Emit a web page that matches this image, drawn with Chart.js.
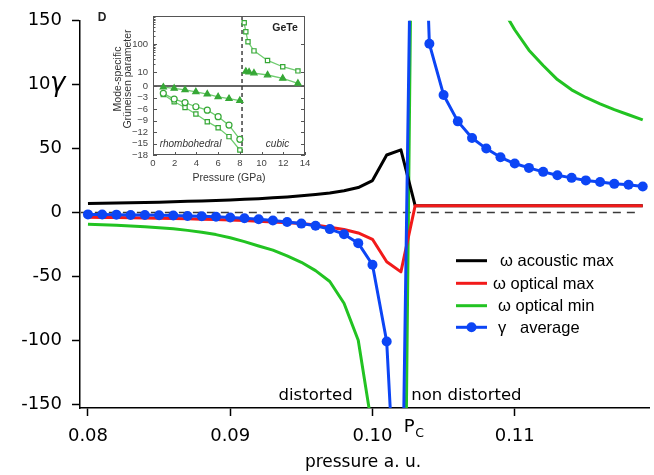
<!DOCTYPE html>
<html>
<head>
<meta charset="utf-8">
<script src="https://cdn.jsdelivr.net/npm/chart.js@4.4.1/dist/chart.umd.min.js"></script>
<style>
  html, body { margin: 0; padding: 0; background: #fff; }
  #wrap { position: relative; width: 654px; height: 475px; overflow: hidden; }
  #main { position: absolute; left: 0; top: 0; }
  #inset { position: absolute; left: 95px; top: 5px; filter: blur(0.45px); }
</style>
</head>
<body>
<div id="wrap">
  <canvas id="main" width="654" height="475"></canvas>
  <canvas id="inset" width="230" height="190"></canvas>
</div>
<script>
// ---------- main panel data (pressure in a.u.) ----------
const PRESSURE_TICKS = [0.08, 0.09, 0.10, 0.11];
const GAMMA_TICKS = [-150, -100, -50, 0, 50, 100, 150];

const ACOUSTIC_MAX_P = [0.080, 0.081, 0.082, 0.083, 0.084, 0.085, 0.086, 0.087, 0.088, 0.089,
                        0.090, 0.091, 0.092, 0.093, 0.094, 0.095, 0.096, 0.097, 0.098, 0.099,
                        0.100, 0.101, 0.102, 0.103, 0.119];
const ACOUSTIC_MAX = [7.0, 7.2, 7.4, 7.6, 7.8, 8.1, 8.4, 8.7, 9.0, 9.4,
                      9.8, 10.3, 10.8, 11.5, 12.2, 13.0, 14.0, 15.2, 17.0, 19.5,
                      25.0, 45.0, 49.0, 5.3, 5.3];

const OPTICAL_MAX_P = [0.080, 0.081, 0.082, 0.083, 0.084, 0.085, 0.086, 0.087, 0.088, 0.089,
                       0.090, 0.091, 0.092, 0.093, 0.094, 0.095, 0.096, 0.097, 0.098, 0.099,
                       0.100, 0.101, 0.102, 0.103, 0.119];
const OPTICAL_MAX = [-3.8, -3.9, -4.0, -4.1, -4.3, -4.5, -4.7, -4.9, -5.2, -5.5,
                     -5.9, -6.3, -6.8, -7.4, -8.0, -8.7, -9.8, -11.5, -13.3, -16.0,
                     -21.0, -38.5, -46.5, 5.3, 5.3];

const FULL_P = [0.080, 0.081, 0.082, 0.083, 0.084, 0.085, 0.086, 0.087, 0.088, 0.089,
                0.090, 0.091, 0.092, 0.093, 0.094, 0.095, 0.096, 0.097, 0.098, 0.099,
                0.100, 0.101, 0.102, 0.103, 0.104, 0.105, 0.106, 0.107, 0.108, 0.109,
                0.110, 0.111, 0.112, 0.113, 0.114, 0.115, 0.116, 0.117, 0.118, 0.119];
const OPTICAL_MIN = [-9.3, -9.6, -10.0, -10.5, -11.1, -11.9, -12.8, -14.0, -15.5, -17.3,
                     -19.8, -22.8, -26.2, -29.5, -34.0, -39.0, -45.5, -54.0, -71.0, -100.0,
                     -170, -300, -569, 506, 420, 320, 257, 214, 184, 162,
                     143, 127, 115, 104, 96, 90, 85, 80.5, 76.5, 72.5];
const GAMMA_AVG = [-1.5, -1.6, -1.7, -1.9, -2.0, -2.2, -2.4, -2.7, -3.0, -3.4,
                   -3.9, -4.5, -5.3, -6.3, -7.4, -8.7, -10.4, -13.0, -17.0, -24.0,
                   -40.9, -101, -311, 458, 132, 92, 71.3, 58.3, 50, 43.2,
                   38.3, 34.9, 31.8, 29.2, 27.1, 25.1, 23.8, 22.4, 21.7, 20.4];

const ZERO_P = [0.0795, 0.1185];
const ZERO_V = [0, 0];

const X_MIN = 0.07944, X_MAX = 0.11944;
const Y_MIN = -153, Y_MAX = 150;

// ---------- inset data (GeTe, pressure in GPa) ----------
const INSET_P_TICKS = [0, 2, 4, 6, 8, 10, 12, 14];
const INSET_G_TICKS = [-18, -15, -12, -9, -6, -3, 0, 10, 100];
const RHOMBO_P = [0.95, 1.95, 2.95, 3.95, 5.0, 6.0, 7.0, 8.0];
const RHOMBO_TRI = [-0.3, -0.6, -1.0, -1.5, -2.1, -2.8, -3.3, -3.8];
const RHOMBO_CIRC = [-1.9, -3.4, -4.3, -5.4, -6.3, -8.0, -10.2, -13.9];
const RHOMBO_SQ = [-2.2, -4.1, -5.6, -7.3, -9.3, -10.9, -13.2, -16.7];
const CUBIC_SQ_P = [8.4, 8.55, 8.75, 9.3, 10.55, 11.95, 13.35];
const CUBIC_SQ = [575, 275, 120, 57, 26, 15.5, 11];
const CUBIC_TRI_P = [8.55, 8.85, 9.3, 10.55, 11.95, 13.35];
const CUBIC_TRI = [10.5, 10.0, 9.3, 7.9, 5.5, 1.9];
const TRANSITION_P = 8.2;

const pts = (xs, ys) => xs.map((x, i) => ({ x, y: ys[i] }));

const BLACK = '#000000', RED = '#f21a1a', GREEN = '#22c322', BLUE = '#0c45f5';

function curve(label, xs, ys, color, order, extra) {
  return Object.assign({
    label, data: pts(xs, ys), borderColor: color, backgroundColor: color,
    borderWidth: 3, pointRadius: 0, showLine: true, tension: 0,
    borderJoinStyle: 'round', order
  }, extra || {});
}

// annotations, legend and axis title drawn on the main panel
const mainDecor = {
  id: 'mainDecor',
  afterDraw(chart) {
    const ctx = chart.ctx;
    const xs = chart.scales.x, ys = chart.scales.y;
    ctx.save();

    // y title
    ctx.fillStyle = '#fff';
    ctx.fillRect(50, 73, 14, 26);
    ctx.fillStyle = '#000';
    ctx.font = 'italic 26px "DejaVu Sans"';
    ctx.textAlign = 'left';
    ctx.textBaseline = 'alphabetic';
    ctx.fillText('γ', 50, 91);

    // region labels
    ctx.font = '16.5px "DejaVu Sans"';
    ctx.textAlign = 'center';
    ctx.textBaseline = 'middle';
    ctx.fillText('distorted', xs.getPixelForValue(0.0960), ys.getPixelForValue(-143));
    ctx.fillText('non distorted', xs.getPixelForValue(0.1066), ys.getPixelForValue(-143));

    // critical pressure
    ctx.textAlign = 'left';
    ctx.textBaseline = 'alphabetic';
    ctx.font = '18px "DejaVu Sans"';
    const pcx = xs.getPixelForValue(0.1022);
    ctx.fillText('P', pcx, 432);
    ctx.font = '12.5px "DejaVu Sans"';
    ctx.fillText('C', pcx + 11.5, 437);

    // x title
    ctx.font = '17px "DejaVu Sans"';
    ctx.textAlign = 'center';
    ctx.textBaseline = 'middle';
    ctx.fillText('pressure a. u.', 363, 463);

    // legend
    const items = [
      { ds: 0, y: 260.7, tx: 500 },
      { ds: 1, y: 283.3, tx: 493 },
      { ds: 2, y: 305.7, tx: 498 },
      { ds: 3, y: 327.3, tx: 498 }
    ];
    ctx.font = '16.5px "Liberation Sans"';
    ctx.textAlign = 'left';
    items.forEach(it => {
      const d = chart.data.datasets[it.ds];
      ctx.strokeStyle = d.borderColor;
      ctx.lineWidth = 3;
      ctx.beginPath();
      ctx.moveTo(456, it.y);
      ctx.lineTo(487, it.y);
      ctx.stroke();
      if (d.pointRadius > 0) {
        ctx.fillStyle = d.backgroundColor;
        ctx.beginPath();
        ctx.arc(471.5, it.y, d.pointRadius, 0, Math.PI * 2);
        ctx.fill();
      }
      ctx.fillStyle = '#000';
      ctx.fillText(d.label, it.tx, it.y + 1);
    });
    ctx.restore();
  }
};

new Chart(document.getElementById('main'), {
  type: 'scatter',
  data: {
    datasets: [
      curve('ω acoustic max', ACOUSTIC_MAX_P, ACOUSTIC_MAX, BLACK, 3),
      curve('ω optical max', OPTICAL_MAX_P, OPTICAL_MAX, RED, 2),
      curve('ω optical min', FULL_P, OPTICAL_MIN, GREEN, 4),
      curve('γ   average', FULL_P, GAMMA_AVG, BLUE, 1, { pointRadius: 5, pointBorderWidth: 0, pointHoverRadius: 5 }),
      curve('zero', ZERO_P, ZERO_V, '#3a3a3a', 5, { borderWidth: 1.5, borderDash: [8, 6] })
    ]
  },
  options: {
    responsive: false,
    animation: false,
    devicePixelRatio: 1,
    layout: { padding: { top: 20, right: 0, bottom: 0, left: 0 } },
    plugins: { legend: { display: false }, tooltip: { enabled: false } },
    scales: {
      x: {
        type: 'linear', min: X_MIN, max: X_MAX,
        afterBuildTicks: s => { s.ticks = PRESSURE_TICKS.map(v => ({ value: v })); },
        afterFit: s => { s.height = 67; },
        grid: { drawOnChartArea: false, drawTicks: true, tickLength: 8, tickColor: '#000', tickWidth: 1.5 },
        border: { display: true, color: '#000', width: 1.5 },
        ticks: {
          font: { family: 'DejaVu Sans', size: 18 }, color: '#000', padding: 10,
          maxRotation: 0, autoSkip: false, callback: v => Number(v).toFixed(2)
        }
      },
      y: {
        type: 'linear', min: Y_MIN, max: Y_MAX,
        afterBuildTicks: s => { s.ticks = GAMMA_TICKS.map(v => ({ value: v })); },
        afterFit: s => { s.width = 80; },
        grid: { drawOnChartArea: false, drawTicks: true, tickLength: 8, tickColor: '#000', tickWidth: 1.5 },
        border: { display: true, color: '#000', width: 1.5 },
        ticks: {
          font: { family: 'DejaVu Sans', size: 18 }, color: '#000', padding: 10,
          autoSkip: false, callback: v => String(v)
        }
      }
    }
  },
  plugins: [mainDecor]
});

// ---------- inset ----------
// vertical axis: linear below zero, linear 0..10, logarithmic above 10
const SPLIT = { neg: 0.496, lin: 0.1007, log: 0.4029 };
class SplitLogScale extends Chart.LinearScale {
  getPixelForValue(v) {
    let f;
    if (v <= 0) f = SPLIT.neg * (v - this.min) / (0 - this.min);
    else if (v <= 10) f = SPLIT.neg + SPLIT.lin * v / 10;
    else f = SPLIT.neg + SPLIT.lin + SPLIT.log * Math.log10(v / 10) / Math.log10(this.max / 10);
    return this.bottom - f * (this.bottom - this.top);
  }
}
SplitLogScale.id = 'splitlog';
SplitLogScale.defaults = Chart.LinearScale.defaults;
Chart.register(SplitLogScale);

const IN_LINE = '#6fcc6f', IN_MARK = '#36a836';
function insetSeries(xs, ys, style, filled) {
  return {
    data: pts(xs, ys), showLine: true, borderColor: IN_LINE, borderWidth: 1.3,
    pointStyle: style, pointRadius: style === 'triangle' ? 3.6 : 3,
    pointBorderColor: IN_MARK, pointBorderWidth: 1.2,
    pointBackgroundColor: filled ? IN_MARK : '#fff', tension: 0
  };
}

const insetDecor = {
  id: 'insetDecor',
  beforeDatasetsDraw(chart) {
    const { ctx, chartArea: a } = chart;
    const xs = chart.scales.x, ys = chart.scales.y;
    ctx.save();
    ctx.strokeStyle = '#333';
    ctx.lineWidth = 1.4;
    ctx.setLineDash([4, 3]);
    const tx = xs.getPixelForValue(TRANSITION_P);
    ctx.beginPath(); ctx.moveTo(tx, a.top); ctx.lineTo(tx, a.bottom); ctx.stroke();
    ctx.setLineDash([]);
    const zy = ys.getPixelForValue(0);
    ctx.lineWidth = 1.4;
    ctx.beginPath(); ctx.moveTo(a.left, zy); ctx.lineTo(a.right, zy); ctx.stroke();
    ctx.restore();
  },
  afterDraw(chart) {
    const { ctx, chartArea: a } = chart;
    const xs = chart.scales.x, ys = chart.scales.y;
    ctx.save();
    ctx.strokeStyle = '#555';
    ctx.lineWidth = 1;
    ctx.strokeRect(a.left + 0.5, a.top + 0.5, a.right - a.left - 1, a.bottom - a.top - 1);
    // inward tick marks
    ctx.beginPath();
    INSET_G_TICKS.forEach(v => {
      const y = Math.round(ys.getPixelForValue(v)) + 0.5;
      ctx.moveTo(a.left, y); ctx.lineTo(a.left + 4, y);
      ctx.moveTo(a.right, y); ctx.lineTo(a.right - 4, y);
    });
    INSET_P_TICKS.forEach(v => {
      const x = Math.round(xs.getPixelForValue(v)) + 0.5;
      ctx.moveTo(x, a.bottom); ctx.lineTo(x, a.bottom - 3);
    });
    [20, 30, 40, 50, 60, 70, 80, 90, 200, 300, 400, 500, 600, 700, 800, 900].forEach(v => {
      const y = Math.round(ys.getPixelForValue(v)) + 0.5;
      ctx.moveTo(a.left, y); ctx.lineTo(a.left + 2.5, y);
    });
    ctx.stroke();

    ctx.fillStyle = '#333';
    ctx.textAlign = 'center';
    ctx.textBaseline = 'middle';
    ctx.font = '10.5px "Liberation Sans"';
    ctx.fillText('Pressure (GPa)', (a.left + a.right) / 2, 173);
    ctx.save();
    ctx.font = '10.5px "Liberation Sans"';
    ctx.translate(23, 74); ctx.rotate(-Math.PI / 2);
    ctx.fillText('Mode-specific', 0, 0);
    ctx.restore();
    ctx.save();
    ctx.font = '10.5px "Liberation Sans"';
    ctx.translate(33.5, 74); ctx.rotate(-Math.PI / 2);
    ctx.fillText('Grüneisen parameter', 0, 0);
    ctx.restore();
    ctx.fillStyle = '#222';
    ctx.font = 'bold 12px "Liberation Sans"';
    ctx.fillText('D', 7, 13);
    ctx.font = 'bold 10.5px "Liberation Sans"';
    ctx.fillText('GeTe', 190, 23);
    ctx.fillStyle = '#333';
    ctx.font = 'italic 10px "Liberation Sans"';
    ctx.fillText('rhombohedral', 95.5, 139.5);
    ctx.fillText('cubic', 182.5, 139.5);
    ctx.restore();
  }
};

new Chart(document.getElementById('inset'), {
  type: 'scatter',
  data: {
    datasets: [
      insetSeries(RHOMBO_P, RHOMBO_TRI, 'triangle', true),
      insetSeries(RHOMBO_P, RHOMBO_CIRC, 'circle', false),
      insetSeries(RHOMBO_P, RHOMBO_SQ, 'rect', false),
      insetSeries(CUBIC_SQ_P, CUBIC_SQ, 'rect', false),
      insetSeries(CUBIC_TRI_P, CUBIC_TRI, 'triangle', true)
    ]
  },
  options: {
    responsive: false,
    animation: false,
    devicePixelRatio: 1,
    layout: { padding: { top: 11, right: 20, bottom: 0, left: 0 } },
    plugins: { legend: { display: false }, tooltip: { enabled: false } },
    scales: {
      x: {
        type: 'linear', min: 0, max: 14,
        afterBuildTicks: s => { s.ticks = INSET_P_TICKS.map(v => ({ value: v })); },
        afterFit: s => { s.height = 40; },
        grid: { display: false, drawTicks: false },
        border: { display: false },
        ticks: { font: { family: 'Liberation Sans', size: 9.5 }, color: '#444', padding: 2.5, maxRotation: 0, autoSkip: false }
      },
      y: {
        type: 'splitlog', min: -18, max: 1000,
        afterBuildTicks: s => { s.ticks = INSET_G_TICKS.map(v => ({ value: v })); },
        afterFit: s => { s.width = 58; },
        grid: { display: false, drawTicks: false },
        border: { display: false },
        ticks: {
          font: { family: 'Liberation Sans', size: 9.5 }, color: '#444', padding: 5, autoSkip: false,
          callback: v => (v < 0 ? '\u2212' + Math.abs(v) : String(v))
        }
      }
    }
  },
  plugins: [insetDecor]
});
</script>
</body>
</html>
